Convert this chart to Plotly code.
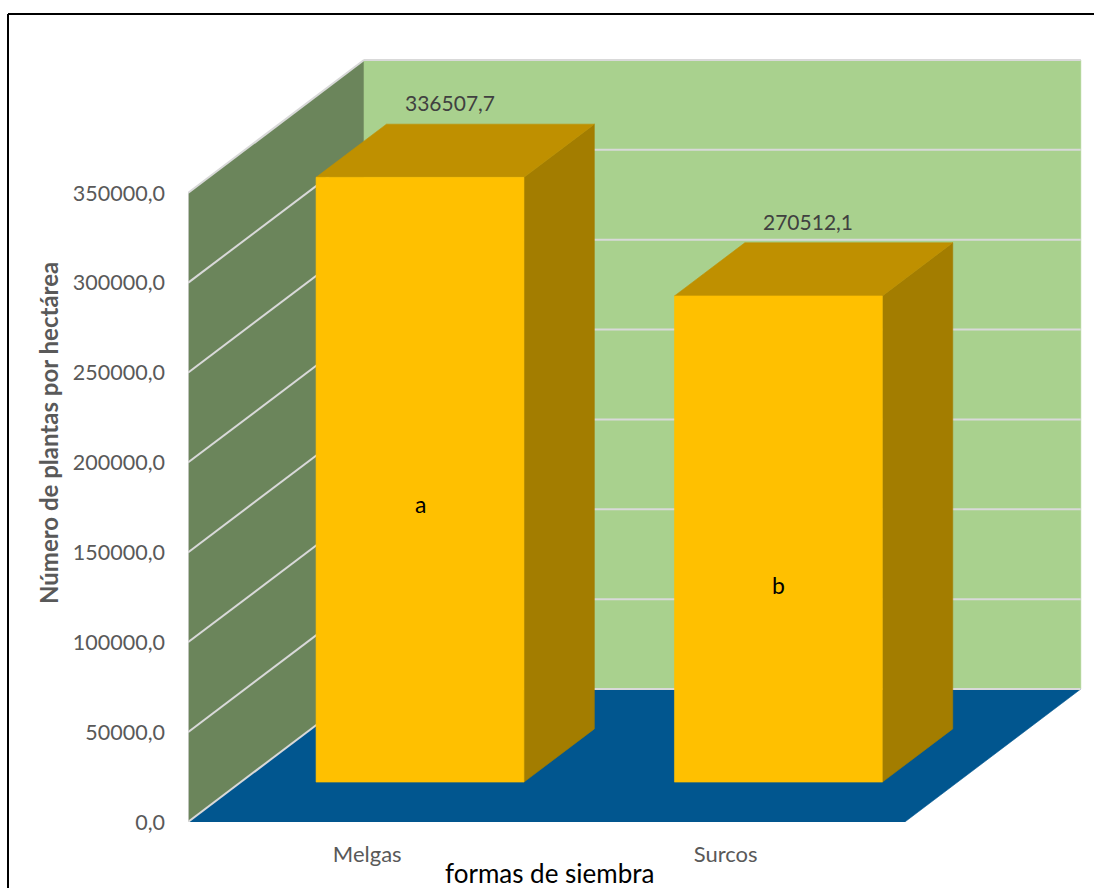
import plotly.graph_objects as go

# ---------------- data ----------------
categories = ["Melgas", "Surcos"]
values = [336507.7, 270512.1]
value_labels = ["336507,7", "270512,1"]
sig_letters = ["a", "b"]
letter_frac = [0.46, 0.405]          # relative height of the letter inside each bar
tick_values = [0, 50000, 100000, 150000, 200000, 250000, 300000, 350000]
tick_labels = ["0,0", "50000,0", "100000,0", "150000,0", "200000,0",
               "250000,0", "300000,0", "350000,0"]
y_title = "Número de plantas por hectárea"
x_title = "formas de siembra"

# ---------------- geometry / style ----------------
W, H = 1094, 888
ML, MR, MB, MT = 188, 10, 66, 30
PLOT_H = H - MT - MB
PX_PER_VAL = 629 / 350000.0
YTOP = PLOT_H / PX_PER_VAL
XMAX = 2.5
PX_PER_CAT = (W - ML - MR) / XMAX
WALL_TOP = 350000
DX = 176 / PX_PER_CAT            # depth shift, category units
DY = 133 / PX_PER_VAL            # depth shift, value units
HALF_W = 0.29
D0, D1 = 0.30, 0.70

C_FRONT = "#FFC000"
C_TOP = "#BF9000"
C_SIDE = "#A37D00"
C_LWALL = "#6B855B"
C_BWALL = "#A9D18E"
C_FLOOR = "#01568F"
C_GRID = "#D9D9D9"
FONT = "Lato"


def proj(x, y, d):
    return x + d * DX, y + d * DY


def poly(pts, color):
    xs, ys = zip(*[proj(*p) for p in pts])
    xs = list(xs) + [xs[0]]
    ys = list(ys) + [ys[0]]
    return go.Scatter(x=xs, y=ys, mode="lines", fill="toself", fillcolor=color,
                      line=dict(width=0.6, color=color), hoverinfo="skip",
                      showlegend=False)


def seg(p1, p2, color=C_GRID, width=2):
    a = proj(*p1)
    b = proj(*p2)
    return go.Scatter(x=[a[0], b[0]], y=[a[1], b[1]], mode="lines",
                      line=dict(color=color, width=width), hoverinfo="skip",
                      showlegend=False)


n = len(categories)
traces = []
# walls and floor
traces.append(poly([(0, 0, 0), (0, 0, 1), (0, WALL_TOP, 1), (0, WALL_TOP, 0)], C_LWALL))
traces.append(poly([(0, 0, 1), (n, 0, 1), (n, WALL_TOP, 1), (0, WALL_TOP, 1)], C_BWALL))
traces.append(poly([(0, 0, 0), (n, 0, 0), (n, 0, 1), (0, 0, 1)], C_FLOOR))
# gridlines
for v in tick_values:
    traces.append(seg((0, v, 0), (0, v, 1)))
    traces.append(seg((0, v, 1), (n, v, 1)))
traces.append(seg((0, 0, 0), (0, WALL_TOP, 0), width=1.5))
# bars
for i, v in enumerate(values):
    c = i + 0.5
    xl, xr = c - HALF_W, c + HALF_W
    traces.append(poly([(xr, 0, D0), (xr, 0, D1), (xr, v, D1), (xr, v, D0)], C_SIDE))
    traces.append(poly([(xl, v, D0), (xr, v, D0), (xr, v, D1), (xl, v, D1)], C_TOP))
    traces.append(poly([(xl, 0, D0), (xr, 0, D0), (xr, v, D0), (xl, v, D0)], C_FRONT))

fig = go.Figure(traces)

annotations = []
for i, v in enumerate(values):
    c = i + 0.5
    lx, ly = proj(c, v, 0.47)
    annotations.append(dict(x=lx, y=ly, text=value_labels[i], showarrow=False,
                            yshift=52, font=dict(family=FONT, size=21, color="#404040")))
    fx, fy = proj(c, v * letter_frac[i], D0)
    annotations.append(dict(x=fx, y=fy, text=sig_letters[i], showarrow=False,
                            font=dict(family=FONT, size=23, color="#000000")))


def px_x(p):
    return (p - ML) / (W - ML - MR)


def px_y(p):
    return (H - MB - p) / PLOT_H


# axis titles
annotations.append(dict(xref="paper", yref="paper", x=px_x(549), y=px_y(873),
                        xanchor="center", yanchor="middle",
                        text=x_title, showarrow=False,
                        font=dict(family=FONT, size=26, color="#000000")))
annotations.append(dict(xref="paper", yref="paper", x=px_x(48), y=px_y(433),
                        xanchor="center", yanchor="middle",
                        text="<b>" + y_title + "</b>",
                        textangle=-90, showarrow=False,
                        font=dict(family=FONT, size=24, color="#595959")))

shapes = [
    dict(type="line", xref="paper", yref="paper", x0=px_x(8), x1=px_x(1100),
         y0=px_y(14), y1=px_y(14), line=dict(color="#000000", width=2)),
    dict(type="line", xref="paper", yref="paper", x0=px_x(8), x1=px_x(8),
         y0=px_y(14), y1=px_y(900), line=dict(color="#000000", width=2)),
]

fig.update_layout(
    width=W, height=H,
    margin=dict(l=ML, r=MR, t=MT, b=MB),
    paper_bgcolor="#FFFFFF", plot_bgcolor="rgba(0,0,0,0)",
    showlegend=False,
    annotations=annotations,
    shapes=shapes,
    xaxis=dict(range=[0, XMAX], showgrid=False, zeroline=False, showline=False,
               tickvals=[i + 0.5 for i in range(n)], ticktext=categories,
               ticks="", ticklabelstandoff=17,
               tickfont=dict(family=FONT, size=22, color="#595959"),
               fixedrange=True),
    yaxis=dict(range=[0, YTOP], showgrid=False, zeroline=False, showline=False,
               tickvals=tick_values, ticktext=tick_labels, ticks="",
               ticklabelstandoff=22,
               tickfont=dict(family=FONT, size=21.5, color="#595959"),
               fixedrange=True),
)

fig.write_html("out.html", config={"displayModeBar": False})
